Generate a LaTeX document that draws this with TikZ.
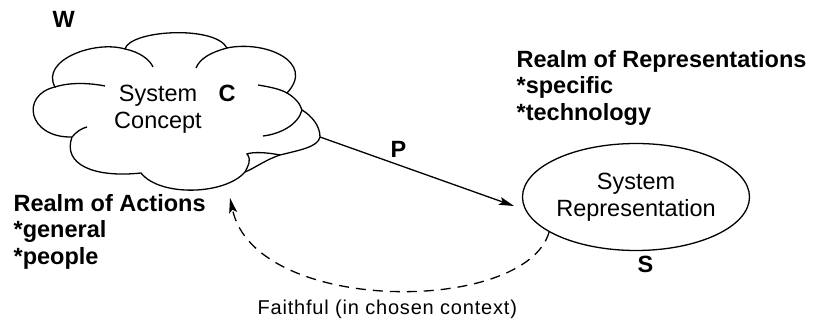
\documentclass[tikz,border=0pt]{standalone}
\usepackage{fontspec}
\setmainfont{Liberation Sans}
\usetikzlibrary{arrows.meta, shapes.geometric}

\begin{document}
\begin{tikzpicture}[x=1pt, y=-1pt, line width=1.3pt,
    >={Stealth[length=15pt, width=8pt, inset=3pt]},
    plaintext/.style={font=\fontsize{23.5}{26.5}\selectfont, inner sep=0pt},
    lettertag/.style={font=\fontsize{23.5}{26.5}\selectfont\bfseries, inner sep=0pt, anchor=base west},
    realm/.style={font=\fontsize{23.5}{26.5}\selectfont\bfseries, inner sep=0pt, align=left, anchor=north west}]
    \useasboundingbox (0,0) rectangle (814,320);
    % Cloud: the system concept
    \coordinate (J1) at (125,49);
    \coordinate (J2) at (227,48);
    \coordinate (J3) at (287,93);
    \coordinate (J4) at (302,110);
    \coordinate (J5) at (320,137);
    \coordinate (J6) at (245,172);
    \coordinate (J7) at (141,173);
    \coordinate (J8) at (72,137);
    \coordinate (J9) at (55,87);
    \draw (J1) .. controls (130,30) and (215,25) .. (J2)
          .. controls (265,40) and (316,62) .. (J3)
          .. controls (294,97) and (300,103) .. (J4)
          .. controls (312,116) and (320,126) .. (J5)
          .. controls (318,147) and (300,150) .. (280,155)
          .. controls (265,160) and (255,168) .. (J6)
          .. controls (225,195) and (160,197) .. (J7)
          .. controls (95,178) and (62,165) .. (J8)
          .. controls (28,138) and (20,95) .. (J9)
          .. controls (40,60) and (95,40) .. (J1) -- cycle;
    % inner strokes of the puffs
    \draw (J1) .. controls (140,52) and (150,60) .. (153,67);
    \draw (J2) .. controls (212,52) and (200,58) .. (196,68);
    \draw (J9) .. controls (70,82) and (90,83) .. (105,86);
    \draw (258,85) .. controls (270,87) and (280,89) .. (J3);
    \draw (J4) .. controls (298,125) and (280,134) .. (263,136);
    \draw (J8) .. controls (76,132) and (82,128) .. (87,127);
    \draw (280,155) .. controls (265,152) and (252,152) .. (247,154)
          .. controls (252,160) and (248,166) .. (J6);
    \node[plaintext, align=center] (concept) at (158,109) {System\\Concept};
    \node[lettertag] (cmark) at (218,102) {C};
    \node[lettertag] (wmark) at (52,28) {W};
    % Representation ellipse
    \node[draw, ellipse, plaintext, align=center, minimum width=227pt, minimum height=107pt] (repr) at (636,197) {System\\Representation};
    \node[lettertag] (smark) at (637,273) {S};
    % Realms
    \node[realm] (actions) at (13,193.5) {Realm of Actions\\*general\\*people};
    \node[realm] (representations) at (516,49.5) {Realm of Representations\\*specific\\*technology};
    % Mapping P
    \coordinate (cloudtail) at (J5);
    \coordinate (reprin) at (514,206);
    \draw[->] (cloudtail) -- (reprin);
    \node[lettertag] (pmark) at (390,158) {P};
    % Faithful, back to the cloud
    \coordinate (cloudfoot) at (230,198);
    \draw[->, dash pattern=on 10pt off 7pt] (repr.202) .. controls (525,315) and (255,315) .. (cloudfoot);
    \node[anchor=base west, inner sep=0pt, font=\fontsize{20}{24}\selectfont\addfontfeatures{LetterSpace=4}] (faithful) at (257,315) {Faithful (in chosen context)};
\end{tikzpicture}
\end{document}
